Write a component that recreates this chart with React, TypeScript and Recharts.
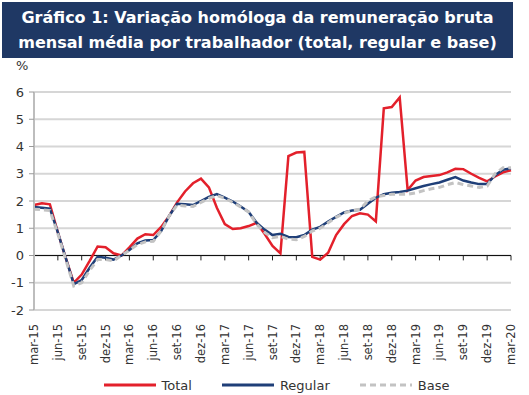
import { LineChart, Line, XAxis, YAxis, CartesianGrid, ReferenceLine, Legend } from 'recharts';

const MONTHS = ['jan', 'fev', 'mar', 'abr', 'mai', 'jun', 'jul', 'ago', 'set', 'out', 'nov', 'dez'];

// mar-15 .. mar-20
const categories: string[] = [];
for (let k = 2; k <= 62; k++) {
  const yy = 15 + Math.floor(k / 12);
  categories.push(`${MONTHS[k % 12]}-${yy}`);
}

const total = [
  1.85, 1.92, 1.88, 0.85, -0.1, -1.0, -0.7, -0.2, 0.33, 0.3, 0.08, 0.0,
  0.3, 0.62, 0.78, 0.75, 1.05, 1.45, 1.95, 2.35, 2.65, 2.82, 2.5, 1.75,
  1.15, 0.97, 1.0, 1.08, 1.2, 0.8, 0.35, 0.08, 3.65, 3.78, 3.8, -0.05,
  -0.15, 0.1, 0.75, 1.15, 1.45, 1.55, 1.5, 1.25, 5.4, 5.45, 5.8, 2.4,
  2.75, 2.88, 2.92, 2.95, 3.05, 3.18, 3.17, 3.0, 2.85, 2.72, 2.9, 3.05,
  3.13,
];

const regular = [
  1.78, 1.75, 1.72, 0.85, -0.1, -1.05, -0.9, -0.45, -0.05, -0.08, -0.15, 0.0,
  0.2, 0.45, 0.55, 0.57, 0.9, 1.45, 1.9, 1.88, 1.85, 2.0, 2.15, 2.25,
  2.12, 1.98, 1.8, 1.6, 1.2, 0.95, 0.75, 0.8, 0.68, 0.67, 0.75, 0.95,
  1.05, 1.25, 1.42, 1.58, 1.65, 1.68, 1.9, 2.12, 2.25, 2.3, 2.33, 2.38,
  2.47, 2.55, 2.62, 2.68, 2.78, 2.88, 2.75, 2.68, 2.62, 2.62, 2.95, 3.15,
  3.2,
];

const base = [
  1.7, 1.68, 1.65, 0.8, -0.15, -1.12, -1.0, -0.55, -0.15, -0.15, -0.2, 0.0,
  0.2, 0.4, 0.5, 0.52, 0.9, 1.45, 1.85, 1.82, 1.8, 1.95, 2.1, 2.2,
  2.1, 1.95, 1.78, 1.6, 1.15, 0.85, 0.65, 0.7, 0.6, 0.58, 0.7, 0.9,
  1.0, 1.2, 1.4, 1.55, 1.65, 1.7, 2.0, 2.15, 2.2, 2.25, 2.25, 2.25,
  2.3, 2.38, 2.45, 2.5, 2.6, 2.68, 2.6, 2.55, 2.5, 2.55, 3.0, 3.22,
  3.22,
];

const yTicks = [-2, -1, 0, 1, 2, 3, 4, 5, 6];

const data = categories.map((m, i) => ({ m, total: total[i], regular: regular[i], base: base[i] }));
const tickCats = categories.filter((_, i) => i % 3 === 0);

const RED = '#E3202B';
const NAVY = '#1F3F78';
const GRAY = '#C3C3C3';
const FONT = '"DejaVu Sans", Verdana, sans-serif';

function XTick(props: any) {
  const { x, y, payload } = props;
  return (
    <text
      x={x + 4}
      y={y + 6}
      transform={`rotate(-90, ${x + 4}, ${y + 6})`}
      textAnchor="end"
      fontSize={11.5}
      fill="#333"
      fontFamily={FONT}
    >
      {payload.value}
    </text>
  );
}

function LegendBox() {
  const items = [
    { name: 'Total', color: RED, dash: undefined },
    { name: 'Regular', color: NAVY, dash: undefined },
    { name: 'Base', color: GRAY, dash: '6 4' },
  ];
  return (
    <div style={{ display: 'flex', justifyContent: 'center', gap: 30, height: 20, alignItems: 'center', paddingLeft: 42, fontFamily: FONT, fontSize: 13, color: '#333' }}>
      {items.map(it => (
        <div key={it.name} style={{ display: 'flex', alignItems: 'center', gap: 6 }}>
          <svg width={52} height={6}>
            <line x1={0} y1={3} x2={52} y2={3} stroke={it.color} strokeWidth={3} strokeDasharray={it.dash} />
          </svg>
          <span>{it.name}</span>
        </div>
      ))}
    </div>
  );
}

export default function App() {
  return (
    <div style={{ position: 'fixed', left: 0, top: 0, width: 529, height: 395, background: '#fff', overflow: 'hidden' }}>
      <LineChart width={529} height={395} data={data} margin={{ top: 92, right: 18, left: 0, bottom: 0 }}>
        <CartesianGrid vertical={false} stroke="#D6D6D6" strokeWidth={2} />
        <XAxis
          dataKey="m"
          interval={2}
          height={65}
          axisLine={false}
          tickLine={false}
          tick={<XTick />}
        />
        <YAxis
          domain={[-2, 6]}
          ticks={yTicks}
          width={34}
          axisLine={{ stroke: '#BDBDBD', strokeWidth: 2 }}
          tickLine={{ stroke: '#9A9A9A' }}
          tickSize={5}
          tickMargin={5}
          tick={{ fontSize: 13, fill: '#333', fontFamily: FONT }}
        />
        <ReferenceLine y={0} stroke="#111" strokeWidth={1.2} />
        {tickCats.map(c => (
          <ReferenceLine key={c} segment={[{ x: c, y: 0 }, { x: c, y: -0.18 }]} stroke="#222" strokeWidth={1} />
        ))}
        <Legend verticalAlign="bottom" content={<LegendBox />} />
        <Line type="linear" dataKey="total" name="Total" stroke={RED} strokeWidth={2.5} dot={false} isAnimationActive={false} />
        <Line type="linear" dataKey="regular" name="Regular" stroke={NAVY} strokeWidth={2.5} dot={false} isAnimationActive={false} />
        <Line type="linear" dataKey="base" name="Base" stroke={GRAY} strokeWidth={3} strokeDasharray="6 4" dot={false} isAnimationActive={false} />
      </LineChart>
      <div style={{ position: 'absolute', left: 2, top: 2, width: 511, height: 56, background: '#1F3864', color: '#fff', fontFamily: FONT, fontWeight: 'bold', fontSize: 16, lineHeight: '25px', textAlign: 'center', paddingTop: 3, boxSizing: 'border-box', whiteSpace: 'nowrap' }}>
        Gráfico 1: Variação homóloga da remuneração bruta
        <br />
        mensal média por trabalhador (total, regular e base)
      </div>
      <div style={{ position: 'absolute', left: 16, top: 58, fontFamily: FONT, fontSize: 13, color: '#333' }}>%</div>
    </div>
  );
}
